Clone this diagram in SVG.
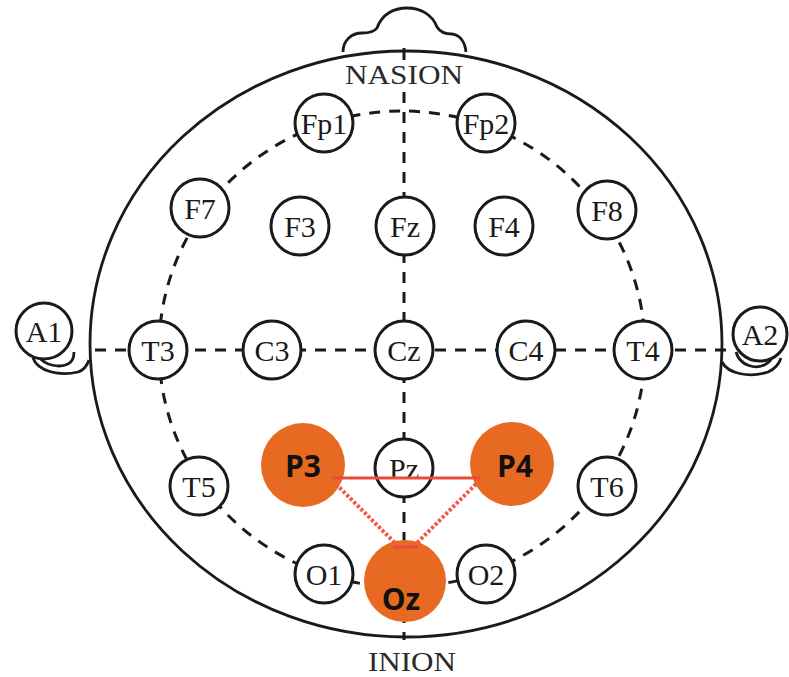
<svg xmlns="http://www.w3.org/2000/svg" width="789" height="677" viewBox="0 0 789 677">
  <style>
    .head { fill: none; stroke: #1a1a1a; stroke-width: 2.8; }
    .guide { fill: none; stroke: #1a1a1a; stroke-width: 3; stroke-dasharray: 11 9; }
    .electrode circle { fill: #ffffff; stroke: #1a1a1a; stroke-width: 3; }
    .electrode text { font-family: "Liberation Serif", "Times New Roman", serif; font-size: 30px; fill: #1a1a1a; text-anchor: middle; }
    .active circle { fill: #e86a22; stroke: none; }
    .active text { font-family: "Open Sans", "Liberation Sans", sans-serif; font-weight: bold; font-size: 30px; fill: #111111; text-anchor: middle; }
    .landmark { font-family: "Liberation Serif", "Times New Roman", serif; font-size: 27px; fill: #2a2a2a; text-anchor: middle; }
    .link { fill: none; stroke: #ea4a3a; stroke-width: 3; }
    .link-dot { fill: none; stroke: #ef5a4c; stroke-width: 4; stroke-dasharray: 3 2; }
  </style>
  <rect width="789" height="677" fill="#ffffff"/>

  <!-- head outline, nose and ears -->
  <g id="head">
    <ellipse class="head" cx="406" cy="344" rx="316" ry="293"/>
    <path class="head" d="M343,52 C343,40 352,33 362,33 C368,33 374,32 377,28 C382,14 394,8 407,8 C420,8 432,14 437,27 C440,32 446,34 452,34 C460,35 465,42 466,52"/>
    <path class="head" d="M33,358 C38,372 60,376 78,372 C84,370 87,366 89,360"/>
    <path class="head" d="M38,356 C45,366 60,368 68,364 C72,362 74,358 74,352"/>
    <path class="head" d="M722,362 C728,374 750,378 768,372 C775,369 779,364 781,358"/>
    <path class="head" d="M736,352 C740,366 756,370 766,364 C770,362 772,358 772,354"/>
  </g>

  <!-- reference lines of the 10-20 layout -->
  <g id="connectors">
    <ellipse class="guide" cx="402" cy="349" rx="243" ry="238"/>
    <line class="guide" x1="95" y1="350" x2="732" y2="350"/>
    <line x1="404" y1="48" x2="404" y2="60" stroke="#1a1a1a" stroke-width="3"/>
    <line class="guide" x1="404" y1="92" x2="404" y2="640"/>
  </g>

  <text class="landmark" x="404" y="84" textLength="118" lengthAdjust="spacingAndGlyphs">NASION</text>
  <text class="landmark" x="412" y="671" textLength="88" lengthAdjust="spacingAndGlyphs">INION</text>

  <g id="Fp1" class="electrode"><circle cx="324" cy="123" r="29"/><text x="324" y="134">Fp1</text></g>
  <g id="Fp2" class="electrode"><circle cx="486" cy="123" r="29"/><text x="486" y="134">Fp2</text></g>
  <g id="F7" class="electrode"><circle cx="200" cy="208" r="29"/><text x="200" y="219">F7</text></g>
  <g id="F3" class="electrode"><circle cx="300" cy="226" r="29"/><text x="300" y="237">F3</text></g>
  <g id="Fz" class="electrode"><circle cx="405" cy="226" r="29"/><text x="405" y="237">Fz</text></g>
  <g id="F4" class="electrode"><circle cx="504" cy="226" r="29"/><text x="504" y="237">F4</text></g>
  <g id="F8" class="electrode"><circle cx="607" cy="210" r="29"/><text x="607" y="221">F8</text></g>
  <g id="A1" class="electrode"><circle cx="44" cy="331" r="28"/><text x="44" y="342">A1</text></g>
  <g id="T3" class="electrode"><circle cx="158" cy="350" r="29"/><text x="158" y="361">T3</text></g>
  <g id="C3" class="electrode"><circle cx="272" cy="350" r="29"/><text x="272" y="361">C3</text></g>
  <g id="Cz" class="electrode"><circle cx="404" cy="350" r="29"/><text x="404" y="361">Cz</text></g>
  <g id="C4" class="electrode"><circle cx="526" cy="350" r="29"/><text x="526" y="361">C4</text></g>
  <g id="T4" class="electrode"><circle cx="643" cy="350" r="29"/><text x="643" y="361">T4</text></g>
  <g id="A2" class="electrode"><circle cx="760" cy="334" r="27"/><text x="760" y="345">A2</text></g>
  <g id="T5" class="electrode"><circle cx="199" cy="486" r="29"/><text x="199" y="497">T5</text></g>
  <g id="Pz" class="electrode"><circle cx="404" cy="468" r="29"/><text x="404" y="479">Pz</text></g>
  <g id="T6" class="electrode"><circle cx="607" cy="486" r="29"/><text x="607" y="497">T6</text></g>
  <g id="O1" class="electrode"><circle cx="324" cy="574" r="29"/><text x="324" y="585">O1</text></g>
  <g id="O2" class="electrode"><circle cx="486" cy="574" r="29"/><text x="486" y="585">O2</text></g>

  <!-- highlighted electrodes -->
  <g id="P3" class="active"><circle cx="303" cy="465" r="42"/><text x="303" y="477">P3</text></g>
  <g id="P4" class="active"><circle cx="512" cy="464" r="42"/><text x="515" y="477">P4</text></g>
  <g id="Oz" class="active"><circle cx="405" cy="581" r="41"/><text x="401" y="610">Oz</text></g>

  <!-- P3 / P4 / Oz triangle -->
  <g id="triangle">
    <line class="link" x1="332" y1="478" x2="480" y2="478"/>
    <line class="link-dot" x1="336" y1="484" x2="398" y2="546"/>
    <line class="link-dot" x1="476" y1="484" x2="414" y2="546"/>
    <line class="link" x1="393" y1="547" x2="418" y2="547"/>
  </g>
</svg>
